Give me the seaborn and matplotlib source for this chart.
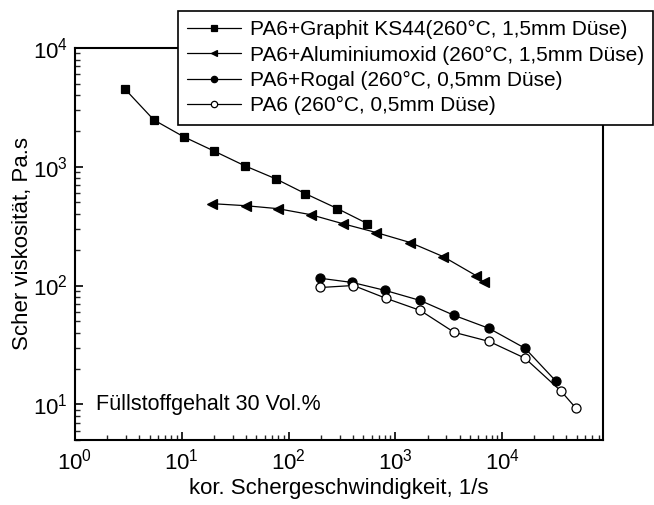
import matplotlib
matplotlib.use("Agg")
import matplotlib.pyplot as plt
import seaborn as sns
import pandas as pd

# data
graphit_x = [2.93, 5.47, 10.4, 19.9, 38.8, 75.7, 144, 287, 547]
graphit_y = [4520, 2480, 1790, 1360, 1020, 792, 593, 444, 332]

alu_x = [19.1, 39.6, 78.9, 161, 320, 664, 1380, 2810, 5710, 6790]
alu_y = [489, 470, 444, 395, 332, 279, 230, 175, 121, 106]

rogal_x = [199, 396, 807, 1710, 3560, 7560, 16400, 32000]
rogal_y = [115, 106, 90.8, 74.8, 56.0, 43.5, 29.6, 15.6]

pa6_x = [199, 405, 824, 1710, 3560, 7560, 16400, 35600, 49200]
pa6_y = [96.2, 100, 77.8, 61.7, 40.3, 33.8, 24.4, 12.9, 9.25]

labels = [
    "PA6+Graphit KS44(260°C, 1,5mm Düse)",
    "PA6+Aluminiumoxid (260°C, 1,5mm Düse)",
    "PA6+Rogal (260°C, 0,5mm Düse)",
    "PA6 (260°C, 0,5mm Düse)",
]

sns.set_theme(style="ticks")
plt.rcParams["font.family"] = ["Liberation Sans", "DejaVu Sans"]
plt.rcParams["mathtext.fontset"] = "custom"
plt.rcParams["mathtext.rm"] = "Liberation Sans"
plt.rcParams["mathtext.it"] = "Liberation Sans"
plt.rcParams["text.color"] = "black"
plt.rcParams["axes.labelcolor"] = "black"

fig = plt.figure(figsize=(6.54, 5.05), dpi=100)
ax = fig.add_axes([75 / 654, 65 / 505, 528 / 654, 392 / 505])

series = [
    (graphit_x, graphit_y, "s", "black", 5.5),
    (alu_x, alu_y, "<", "black", 7),
    (rogal_x, rogal_y, "o", "black", 6.5),
    (pa6_x, pa6_y, "o", "white", 6.5),
]

for (xs, ys, mk, fc, ms), lab in zip(series, labels):
    df = pd.DataFrame({"x": xs, "y": ys})
    sns.lineplot(data=df, x="x", y="y", ax=ax, color="black", lw=0.9,
                 marker=mk, markersize=ms, markerfacecolor=fc,
                 markeredgecolor="black", markeredgewidth=0.9,
                 sort=False, label=lab)

ax.set_xscale("log")
ax.set_yscale("log")
ax.set_xlim(1, 8.8e4)
ax.set_ylim(5, 1e4)

for s in ax.spines.values():
    s.set_color("black")
    s.set_linewidth(1.5)

ax.tick_params(which="major", direction="in", length=6, width=1.2,
               labelsize=16, colors="black", pad=6)
ax.tick_params(axis="y", which="major", pad=5)
ax.tick_params(which="minor", direction="in", length=3.5, width=1.0)

ax.set_xlabel("kor. Schergeschwindigkeit, 1/s", fontsize=16, labelpad=3)
ax.set_ylabel("Scher viskosität, Pa.s", fontsize=16, labelpad=0)

ax.text(0.04, 0.09, "Füllstoffgehalt 30 Vol.%", transform=ax.transAxes,
        fontsize=15.5, va="center", ha="left")

leg = ax.legend(loc="upper right", bbox_to_anchor=(653 / 654, 1 - 11 / 505),
                bbox_transform=fig.transFigure, fontsize=15,
                frameon=True, fancybox=False, framealpha=1,
                edgecolor="black", handlelength=2.6, handletextpad=0.4,
                labelspacing=0.3, borderpad=0.45, markerscale=0.7,
                borderaxespad=0)
leg.get_frame().set_linewidth(1.2)

plt.savefig("out.png", dpi=100)
plt.close()
